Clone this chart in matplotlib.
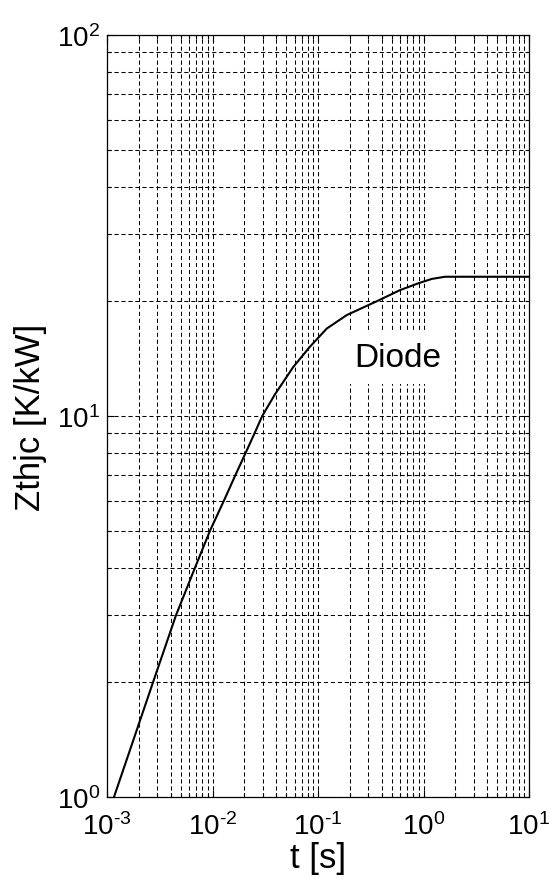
import numpy as np
import matplotlib
matplotlib.use("Agg")
import matplotlib.pyplot as plt
from matplotlib import ticker

plt.rcParams['font.family'] = ['Liberation Sans', 'DejaVu Sans']
plt.rcParams['mathtext.fontset'] = 'custom'
plt.rcParams['mathtext.rm'] = 'Liberation Sans'
plt.rcParams['mathtext.it'] = 'Liberation Sans:italic'
plt.rcParams['mathtext.bf'] = 'Liberation Sans:bold'

# transient thermal impedance of the diode, junction to case
t_s = [1.165e-3, 2.73e-3, 4.51e-3, 6.83e-3, 9.47e-3, 0.01285, 0.0165,
       0.0206, 0.0250, 0.0296, 0.0391, 0.0583, 0.0839, 0.121, 0.187, 0.36,
       0.599, 0.893, 1.2, 1.6, 10.0]
zth = [1.0, 2.0, 3.0, 4.0, 5.0, 6.0, 7.0,
       8.0, 9.0, 10.0, 11.4, 13.45, 15.2, 16.96, 18.4, 20.0,
       21.4, 22.3, 22.9, 23.2, 23.2]

xlim = (1e-3, 1e1)
ylim = (1e0, 1e2)


def pow10_label(v, pos):
    # short hyphen in the exponent, like the old plotting tool did
    e = int(round(np.log10(v)))
    s = str(e).replace('-', '\u2010')
    return r'$\mathdefault{10^{%s}}$' % s


fig = plt.figure(figsize=(5.5, 8.79), dpi=100)
ax = fig.add_axes([107/550, 1 - 798/879, 422/550, 762/879])

ax.plot(t_s, zth, color='k', linewidth=1.5, zorder=3)

ax.set_xscale('log')
ax.set_yscale('log')
ax.set_xlim(*xlim)
ax.set_ylim(*ylim)

for axis in (ax.xaxis, ax.yaxis):
    axis.set_major_locator(ticker.LogLocator(base=10, numticks=10))
    axis.set_minor_locator(ticker.LogLocator(base=10, subs=np.arange(2, 10), numticks=100))
    axis.set_major_formatter(ticker.FuncFormatter(pow10_label))
    axis.set_minor_formatter(ticker.NullFormatter())

ax.grid(True, which='both', color='k', linestyle=(0, (4, 2.7)), linewidth=0.75, zorder=1)
ax.set_axisbelow(True)

ax.tick_params(which='both', direction='in', top=True, right=True, width=0.8,
               labelsize=20, colors='k')
ax.tick_params(which='major', length=5)
ax.tick_params(which='minor', length=3)
ax.tick_params(axis='x', pad=11)
ax.tick_params(axis='y', pad=5)
for sp in ax.spines.values():
    sp.set_linewidth(0.9)
    sp.set_color('k')

ax.set_xlabel('t [s]', fontsize=25)
ax.set_ylabel('Zthjc [K/kW]', fontsize=25)
ax.xaxis.set_label_coords(0.5, -0.058)
ax.yaxis.set_label_coords(-0.143, 0.5)

ax.text(0.573, 13.53, 'Diode', fontsize=24, ha='center', va='baseline', zorder=4,
        bbox=dict(facecolor='white', edgecolor='none', pad=8))

fig.savefig('out.png', dpi=100)
